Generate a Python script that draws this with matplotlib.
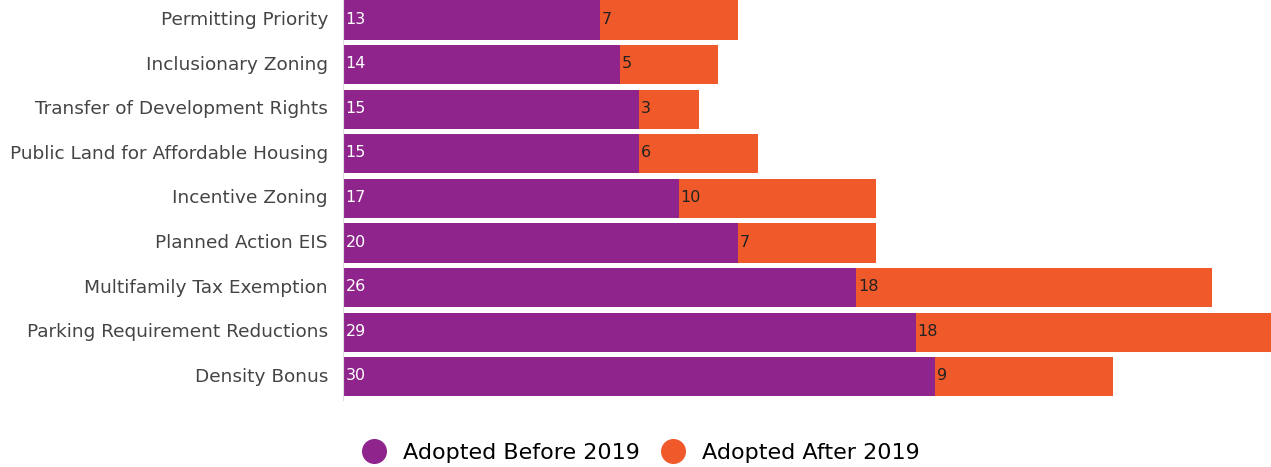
import matplotlib.pyplot as plt
from matplotlib.lines import Line2D

# Housing policy counts (top to bottom)
categories = ["Permitting Priority", "Inclusionary Zoning", "Transfer of Development Rights",
              "Public Land for Affordable Housing", "Incentive Zoning", "Planned Action EIS",
              "Multifamily Tax Exemption", "Parking Requirement Reductions", "Density Bonus"]
before_2019 = [13, 14, 15, 15, 17, 20, 26, 29, 30]
after_2019 = [7, 5, 3, 6, 10, 7, 18, 18, 9]
series_names = ["Adopted Before 2019", "Adopted After 2019"]

purple = "#8E248C"
orange = "#F05A2A"

plt.rcParams['font.family'] = ['DejaVu Sans']

fig = plt.figure(figsize=(12.71, 4.67), dpi=100)
ax = fig.add_axes([0.27, 0.1435, 0.73, 0.8565])

y = list(range(len(categories)))
ax.barh(y, before_2019, height=0.88, color=purple, edgecolor="none")
ax.barh(y, after_2019, left=before_2019, height=0.88, color=orange, edgecolor="none")

# Value labels at the start of each segment
for i in y:
    ax.text(0.12, i - 0.02, str(before_2019[i]), color="white", ha="left", va="center", fontsize=11.5)
    ax.text(before_2019[i] + 0.1, i - 0.02, str(after_2019[i]), color="#222222", ha="left", va="center", fontsize=11.5)

ax.set_xlim(0, 47)
ax.set_ylim(8.52, -0.45)
ax.set_yticks(y)
ax.set_yticklabels(categories, fontsize=13.3, color="#444444", va="center")
ax.tick_params(axis="y", length=0, pad=11)
ax.set_xticks([])
for side in ["top", "right", "bottom"]:
    ax.spines[side].set_visible(False)
ax.spines["left"].set_color("#dddddd")

handles = [Line2D([], [], marker="o", linestyle="none", markersize=17, color=purple),
           Line2D([], [], marker="o", linestyle="none", markersize=17, color=orange)]
fig.legend(handles, series_names, loc="center", bbox_to_anchor=(0.5, 0.03), ncol=2,
           frameon=False, fontsize=16, handletextpad=0.3, columnspacing=0.5)

plt.savefig("out.png", dpi=100)
